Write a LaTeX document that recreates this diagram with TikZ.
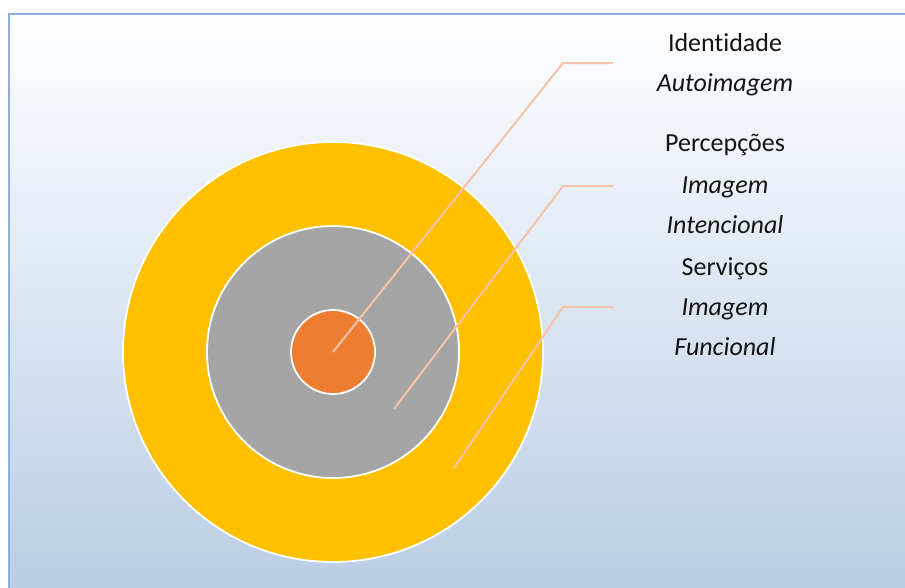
\documentclass[tikz,border=0pt]{standalone}
\usepackage{fontspec}
\setmainfont{Carlito}[Ligatures=CommonOff]
\usepackage{tikz}

\definecolor{ringyellow}{HTML}{FFC000}
\definecolor{ringgray}{HTML}{A5A5A5}
\definecolor{ringorange}{HTML}{ED7D31}
\definecolor{leadcol}{HTML}{F5C2AA}
\definecolor{frameblue}{HTML}{8EB0DC}
\definecolor{bgblue}{HTML}{B9CDE5}

\begin{document}
\begin{tikzpicture}[x=1pt, y=-1pt]
    \tikzstyle{ring} = [circle, draw=white, line width=1.8pt, inner sep=0pt]
    \tikzstyle{leader} = [leadcol, line width=2pt]
    \tikzstyle{lbl} = [anchor=base, inner sep=0pt, text=black!92, font=\fontsize{26}{30}\selectfont]

    \useasboundingbox (0,0) rectangle (905,587);

    % Background panel (gradient) and its frame
    \shade[top color=white, bottom color=bgblue] (9,14) rectangle (912,592);
    \draw[frameblue, line width=2.5pt] (9,600) -- (9,14) -- (912,14);

    % Rings, from outside in
    \node[ring, fill=ringyellow, minimum size=420pt] (outer) at (333,352) {};
    \node[ring, fill=ringgray, minimum size=252pt] (middle) at (333,352) {};
    \node[ring, fill=ringorange, minimum size=84pt] (core) at (333,352) {};

    % Leader lines (start point in each ring, bend, free end)
    \coordinate (s1) at (core.center);
    \coordinate (s2) at (394,409);
    \coordinate (s3) at (454,468);
    \foreach \n/\y in {1/63, 2/186, 3/307} {
        \coordinate (b\n) at (563,\y);
        \coordinate (e\n) at (613,\y);
        \draw[leader] (s\n) -- (b\n) -- (e\n);
    }

    % Labels
    \node[lbl] (ident) at (725,51) {Identidade};
    \node[lbl] (autoimg) at (725,91) {\textit{Autoimagem}};
    \node[lbl] (percep) at (725,151) {Percepções};
    \node[lbl] (imgint) at (725,193) {\textit{Imagem}};
    \node[lbl] (intenc) at (725,233) {\textit{Intencional}};
    \node[lbl] (serv) at (725,275) {Serviços};
    \node[lbl] (imgfun) at (725,315) {\textit{Imagem}};
    \node[lbl] (funcio) at (725,355) {\textit{Funcional}};
\end{tikzpicture}
\end{document}
